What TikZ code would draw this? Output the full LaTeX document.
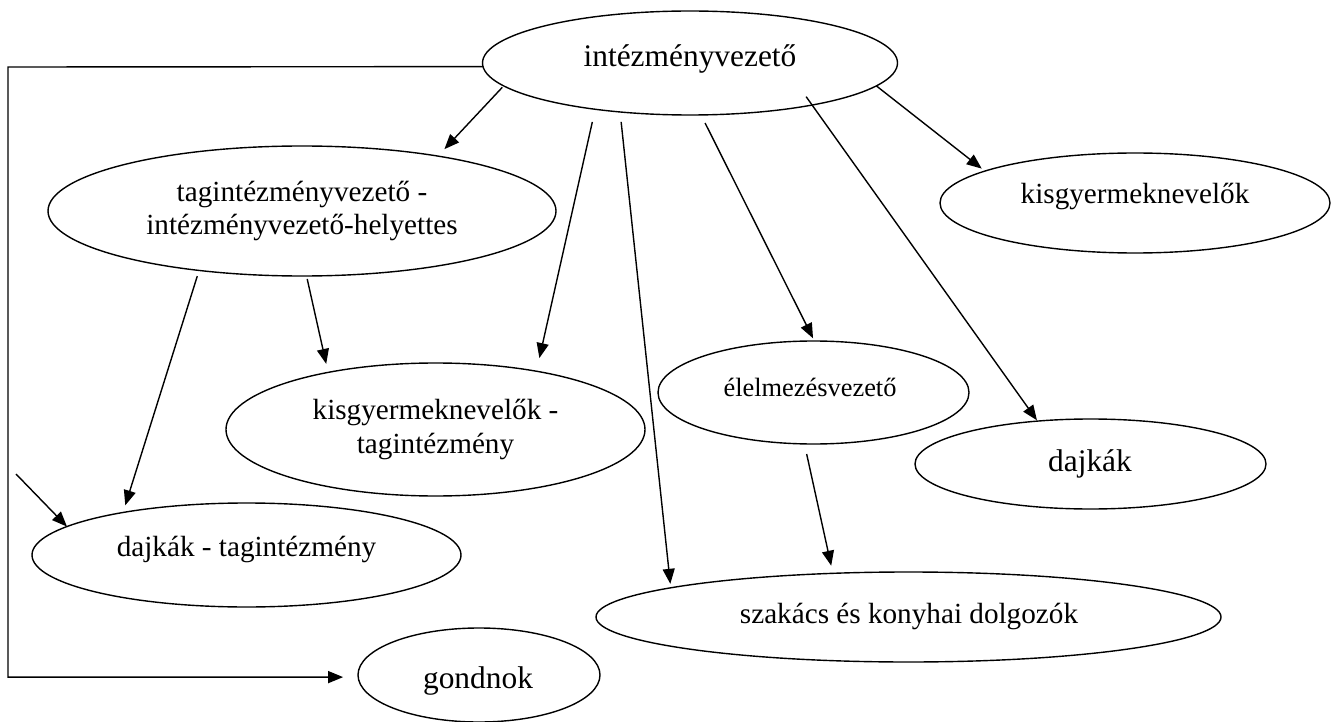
\documentclass[tikz,border=0pt]{standalone}
\usepackage{fontspec}
\setmainfont{Liberation Serif}
\usetikzlibrary{shapes.geometric,arrows.meta}
\begin{document}
\begin{tikzpicture}[x=1pt,y=-1pt,
  ell/.style={draw, ellipse, line width=1.4pt, inner sep=0pt, outer sep=0pt},
  lbl/.style={anchor=base, inner sep=0pt},
  arr/.style={line width=1.4pt, -{Triangle[length=15pt,width=12pt]}},
  fa/.style={font=\fontsize{29.2}{33.8}\selectfont},
  fb/.style={font=\fontsize{31.4}{36}\selectfont},
  fc/.style={font=\fontsize{26.4}{30}\selectfont}]
\useasboundingbox (0,0) rectangle (1331,722);
% nodes
\node[ell, minimum width=415pt, minimum height=104pt] (iv) at (690,63) {};
\node[lbl, fb] (ivt) at (690,67) {intézményvezető};
\node[ell, fa, align=center, minimum width=508pt, minimum height=130pt] (tag) at (302,211) {tagintézményvezető -\\intézményvezető-helyettes};
\node[ell, minimum width=390pt, minimum height=100pt] (kgy) at (1135,203) {};
\node[lbl, fa] (kgyt) at (1135,204) {kisgyermeknevelők};
\node[ell, fa, align=center, minimum width=419pt, minimum height=133pt] (kt) at (435.5,429.5) {kisgyermeknevelők -\\tagintézmény};
\node[ell, minimum width=311pt, minimum height=103pt] (el) at (813.5,392.5) {};
\node[lbl, fc] (elt) at (810,396) {élelmezésvezető};
\node[ell, minimum width=351pt, minimum height=90pt] (dj) at (1090.5,464) {};
\node[lbl, fb] (djt) at (1090,471) {dajkák};
\node[ell, minimum width=429pt, minimum height=104pt] (dt) at (246.5,555) {};
\node[lbl, fa] (dtt) at (246.5,556) {dajkák - tagintézmény};
\node[ell, minimum width=625pt, minimum height=90pt] (sz) at (908.5,617) {};
\node[lbl, fa] (szt) at (909,623) {szakács és konyhai dolgozók};
\node[ell, minimum width=242pt, minimum height=94pt] (go) at (479,675) {};
\node[lbl, fb] (got) at (478,688) {gondnok};
% connectors
\draw[arr, shorten <=2pt, shorten >=9.5pt] (iv.187) -- (tag.22);
\draw[arr, shorten <=13pt, shorten >=13.5pt] (iv.206) -- (kt.30);
\draw[arr, shorten <=10pt, shorten >=4pt] (iv.215) -- (sz.173);
\draw[arr, shorten <=9pt, shorten >=3pt] (iv.282) -- (el.89);
\draw[arr, shorten <=-10.3pt, shorten >=1pt] (iv.341) -- (dj.141);
\draw[arr, shorten >=4pt] (iv.353) -- (kgy.168);
\draw[arr, shorten <=6pt, shorten >=7.5pt] (tag.210) -- (dt.161);
\draw[arr, shorten <=3pt, shorten >=8.7pt] (tag.274) -- (kt.152);
\draw[arr, shorten <=10.3pt, shorten >=7.8pt] (el.260) -- (sz.150);
\coordinate (free) at (16,474);
\draw[arr] (free) -- (dt.171);
\coordinate (cL) at (8,67);
\draw[arr, shorten >=15pt] (iv.181) -- (cL) |- (go.181);
\end{tikzpicture}
\end{document}
